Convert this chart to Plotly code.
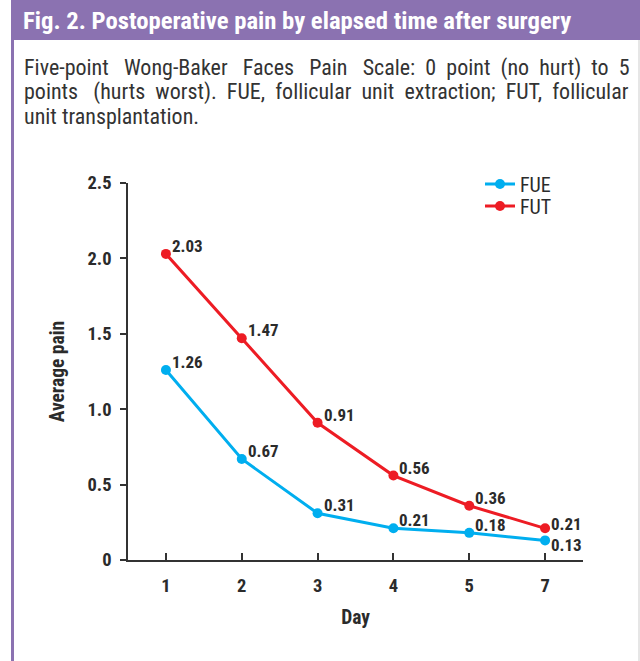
import plotly.graph_objects as go

days = ["1", "2", "3", "4", "5", "7"]
fue = [1.26, 0.67, 0.31, 0.21, 0.18, 0.13]
fut = [2.03, 1.47, 0.91, 0.56, 0.36, 0.21]
fue_lab_dy = [8, 8, 8, 8, 8, -5]
fut_lab_dy = [8, 8, 8, 8, 8, 4]
y_ticks = [0, 0.5, 1.0, 1.5, 2.0, 2.5]
y_ticktext = ["0", "0.5", "1.0", "1.5", "2.0", "2.5"]

title_text = "Fig. 2. Postoperative pain by elapsed time after surgery"
body_lines = [
    "Five-point Wong-Baker Faces Pain Scale: 0 point (no hurt) to 5",
    "points (hurts worst). FUE, follicular unit extraction; FUT, follicular",
    "unit transplantation.",
]
# extra (non-breaking) spaces per line to mimic the justified caption
body_extra = [14, 9, 0]

BLUE = "#00AEEF"
RED = "#ED1C24"
PURPLE = "#8B72B1"
TXT = "#2b2b2b"
COND = "Liberation Sans Narrow, Roboto Condensed, DejaVu Sans Condensed, Roboto, sans-serif"

W, H = 640, 661
L, R, T, B = 128, 57, 183, 101
pw, ph = W - L - R, H - T - B


def px(x):
    return (x - L) / pw


def py(y):
    return (H - B - y) / ph


def justify(line, extra):
    words = line.split(" ")
    gaps = len(words) - 1
    if gaps == 0 or extra == 0:
        return line
    out = words[0]
    for g in range(gaps):
        n = extra // gaps + (1 if g < extra % gaps else 0)
        out += " " + "\u00a0" * n + words[g + 1]
    return out


fig = go.Figure()
fig.add_trace(go.Scatter(
    x=days, y=fue, name="FUE", mode="lines+markers", legend="legend",
    line=dict(color=BLUE, width=3), marker=dict(size=10, color=BLUE),
))
fig.add_trace(go.Scatter(
    x=days, y=fut, name="FUT", mode="lines+markers", legend="legend2",
    line=dict(color=RED, width=3), marker=dict(size=10, color=RED),
))

shapes = [
    dict(type="rect", xref="paper", yref="paper", x0=px(11), x1=px(641), y0=py(40), y1=py(0),
         fillcolor=PURPLE, line=dict(width=0), layer="below"),
    dict(type="rect", xref="paper", yref="paper", x0=px(11), x1=px(14), y0=py(662), y1=py(40),
         fillcolor=PURPLE, line=dict(width=0), layer="below"),
    dict(type="rect", xref="paper", yref="paper", x0=px(638), x1=px(640), y0=py(662), y1=py(40),
         fillcolor="#e6e6e6", line=dict(width=0), layer="below"),
]

annotations = [
    dict(text=f"<b>{title_text}</b>", xref="paper", yref="paper",
         x=px(21), y=py(20), xanchor="left", yanchor="middle", showarrow=False,
         font=dict(family=COND, size=24.7, color="white")),
]
for i, (line, extra) in enumerate(zip(body_lines, body_extra)):
    annotations.append(dict(text=justify(line, extra), xref="paper", yref="paper", x=px(22), y=py(68 + 24 * i),
                            xanchor="left", yanchor="middle", showarrow=False,
                            font=dict(family=COND, size=22, color="#333333")))

for vals, dys in ((fue, fue_lab_dy), (fut, fut_lab_dy)):
    for i, (v, dy) in enumerate(zip(vals, dys)):
        annotations.append(dict(text=f"<b>{v:.2f}</b>", x=i, y=v, xref="x", yref="y",
                                xanchor="left", yanchor="middle", xshift=4, yshift=dy, showarrow=False,
                                font=dict(family=COND, size=17, color=TXT)))

leg_common = dict(xanchor="left", yanchor="middle", font=dict(family=COND, size=20, color=TXT),
                  bgcolor="rgba(0,0,0,0)", borderwidth=0)

fig.update_layout(
    width=W, height=H, margin=dict(l=L, r=R, t=T, b=B),
    paper_bgcolor="white", plot_bgcolor="white",
    showlegend=True,
    legend=dict(x=px(480), y=py(184), **leg_common),
    legend2=dict(x=px(480), y=py(206), **leg_common),
    xaxis=dict(type="category", range=[-0.5, 5.5], showline=True, linecolor="#333333", linewidth=1.5,
               ticks="inside", ticklen=7, tickcolor="#333333", tickwidth=1.5, showgrid=False,
               ticklabelstandoff=8,
               tickfont=dict(family=COND, size=18.5, color=TXT, weight="bold"),
               title=dict(text="<b>Day</b>", font=dict(family=COND, size=19.5, color=TXT), standoff=14)),
    yaxis=dict(range=[0, 2.5], tickvals=y_ticks, ticktext=y_ticktext, showline=True,
               linecolor="#333333", linewidth=1.5, ticks="outside", ticklen=6, tickcolor="#333333",
               tickwidth=1.5, showgrid=False, zeroline=False, ticklabelstandoff=5,
               tickfont=dict(family=COND, size=18.5, color=TXT, weight="bold"),
               title=dict(text="<b>Average pain</b>", font=dict(family=COND, size=19.5, color=TXT), standoff=18)),
    shapes=shapes, annotations=annotations,
)

fig.write_html("out.html", config={"displayModeBar": False},
               post_script="document.body.style.margin='0';document.body.style.overflow='hidden';")
